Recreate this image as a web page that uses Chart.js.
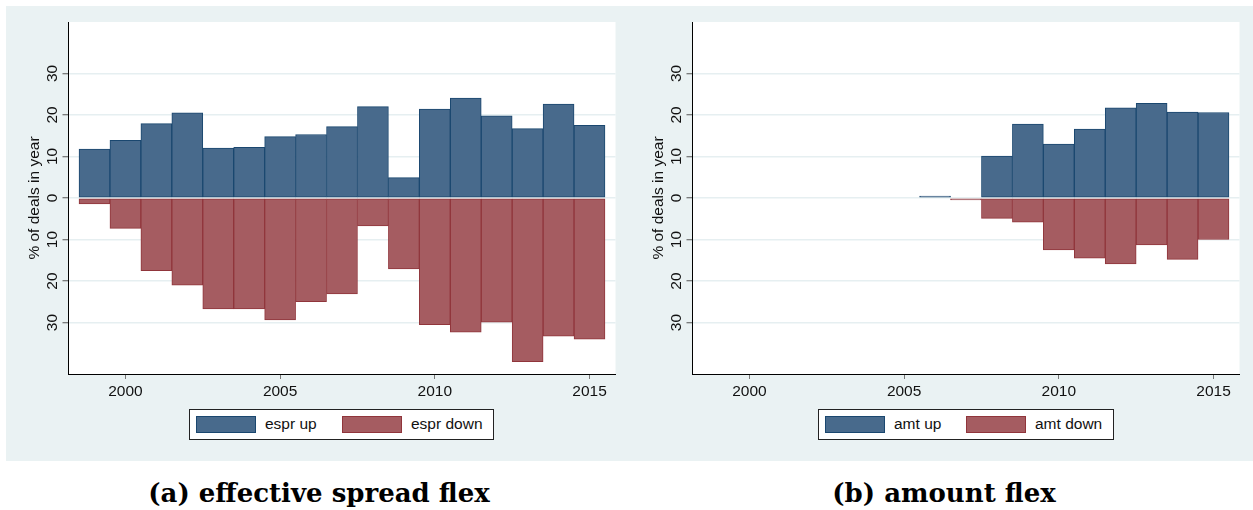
<!DOCTYPE html>
<html>
<head>
<meta charset="utf-8">
<script src="https://cdn.jsdelivr.net/npm/chart.js@4.4.0/dist/chart.umd.min.js"></script>
<style>
  body { margin: 0; width: 1253px; height: 510px; overflow: hidden; position: relative; background: #fff;
         font-family: "Liberation Sans", Arial, sans-serif; }
  #band { position: absolute; left: 6px; top: 6px; width: 1247px; height: 455px; background: #eaf2f3; }
  .cv { position: absolute; top: 6px; width: 616px; height: 455px; }
  .legend { position: absolute; top: 409px; height: 29px; border: 1px solid #222; background: #fff; }
  .legend .sw { position: absolute; top: 6px; width: 58px; height: 15px; border: 1px solid; }
  .legend .lab { position: absolute; top: 5px; font-size: 15.5px; line-height: 18px; color: #111; white-space: nowrap; }
  .caption { position: absolute; top: 480px; font-family: "DejaVu Serif", serif; font-weight: bold;
             font-size: 26px; line-height: 26px; color: #000; white-space: nowrap; transform: translateX(-50%); }
</style>
</head>
<body>
<div id="band"></div>
<canvas id="chartA" class="cv" width="616" height="455" style="left:6px"></canvas>
<canvas id="chartB" class="cv" width="616" height="455" style="left:630px"></canvas>
<div id="legA" class="legend" style="left:189px;width:303px"></div>
<div id="legB" class="legend" style="left:818px;width:294px"></div>
<div class="caption" style="left:319px">(a) effective spread flex</div>
<div class="caption" style="left:944px">(b) amount flex</div>

<script>
// years of the two panels
const years = [1999, 2000, 2001, 2002, 2003, 2004, 2005, 2006, 2007, 2008, 2009, 2010, 2011, 2012, 2013, 2014, 2015];
const amtYears = [2006, 2007, 2008, 2009, 2010, 2011, 2012, 2013, 2014, 2015];

// % of deals in year (down values read as positive, drawn below zero)
const esprUp   = [11.8, 13.9, 17.9, 20.5, 12.0, 12.2, 14.8, 15.3, 17.2, 22.0, 4.9, 21.4, 24.1, 19.8, 16.7, 22.6, 17.5];
const esprDown = [1.4, 7.3, 17.5, 21.0, 26.7, 26.7, 29.4, 25.0, 23.1, 6.7, 17.1, 30.5, 32.3, 29.9, 39.4, 33.3, 34.0];
const amtUp    = [0.3, null, 10.1, 17.8, 13.0, 16.6, 21.7, 22.8, 20.7, 20.6];
const amtDown  = [null, 0.3, 4.9, 5.8, 12.5, 14.5, 15.9, 11.3, 14.8, 10.0];

const xTicks = [2000, 2005, 2010, 2015];
const yTicks = [-30, -20, -10, 0, 10, 20, 30];

const BLUE = '#486a8c', BLUE_LINE = '#1a476f';
const RED = '#a55c61', RED_LINE = '#90353b';
const GRID = '#e6eff1';
const FONT = '"Liberation Sans", Arial, sans-serif';

// white plot region + rotated y labels like Stata
const plotDecor = {
  id: 'plotDecor',
  beforeDraw(chart) {
    const { ctx, chartArea: a } = chart;
    ctx.save();
    ctx.fillStyle = '#fff';
    ctx.fillRect(a.left, a.top, a.right - a.left, a.bottom - a.top);
    ctx.restore();
  },
  afterDraw(chart) {
    const { ctx, chartArea: a, scales: { y } } = chart;
    ctx.save();
    ctx.fillStyle = '#111';
    ctx.font = '15.5px ' + FONT;
    ctx.textAlign = 'center';
    ctx.textBaseline = 'alphabetic';
    yTicks.forEach(v => {
      ctx.save();
      ctx.translate(a.left - 12, y.getPixelForValue(v));
      ctx.rotate(-Math.PI / 2);
      ctx.fillText(String(Math.abs(v)), 0, 0);
      ctx.restore();
    });
    ctx.translate(33, y.getPixelForValue(0));
    ctx.rotate(-Math.PI / 2);
    ctx.fillText('% of deals in year', 0, 0);
    ctx.restore();
  }
};

function makeChart(id, xs, up, down, labels) {
  const datasets = [
    { label: labels[0], data: xs.map((x, i) => ({ x: x, y: up[i] })),
      backgroundColor: BLUE, borderColor: BLUE_LINE },
    { label: labels[1], data: xs.map((x, i) => ({ x: x, y: down[i] == null ? null : -down[i] })),
      backgroundColor: RED, borderColor: RED_LINE }
  ];
  return new Chart(document.getElementById(id), {
    type: 'bar',
    data: { datasets: datasets },
    options: {
      responsive: false,
      animation: false,
      devicePixelRatio: 1,
      layout: { padding: { left: 0, right: 6.5, top: 16, bottom: 0 } },
      datasets: { bar: { grouped: false, barPercentage: 1, categoryPercentage: 1,
                         borderWidth: 1, borderSkipped: false, minBarLength: 2 } },
      plugins: { legend: { display: false }, tooltip: { enabled: false } },
      scales: {
        x: {
          type: 'linear', min: 1998.16, max: 2015.84, offset: false,
          afterBuildTicks: s => { s.ticks = xTicks.map(v => ({ value: v })); },
          afterFit: s => { s.height = 87; },
          ticks: { color: '#111', padding: 3, font: { size: 15.5, family: FONT }, callback: v => String(v) },
          grid: { offset: false, drawOnChartArea: false, tickLength: 5, tickColor: '#777' },
          border: { color: '#000', width: 1 }
        },
        y: {
          min: -42.4, max: 42.4,
          afterBuildTicks: s => { s.ticks = yTicks.map(v => ({ value: v })); },
          afterFit: s => { s.width = 62.5; },
          ticks: { display: false },
          grid: { color: GRID, lineWidth: 1.5, tickLength: 6, tickColor: '#555', tickWidth: 1 },
          border: { color: '#000', width: 1 }
        }
      }
    },
    plugins: [plotDecor]
  });
}

function fillLegend(divId, chart, pos) {
  const box = document.getElementById(divId);
  chart.data.datasets.forEach((ds, i) => {
    const sw = document.createElement('div');
    sw.className = 'sw';
    sw.style.left = pos[i][0] + 'px';
    sw.style.background = ds.backgroundColor;
    sw.style.borderColor = ds.borderColor;
    box.appendChild(sw);
    const lab = document.createElement('div');
    lab.className = 'lab';
    lab.style.left = pos[i][1] + 'px';
    lab.textContent = ds.label;
    box.appendChild(lab);
  });
}

const chartA = makeChart('chartA', years, esprUp, esprDown, ['espr up', 'espr down']);
const chartB = makeChart('chartB', amtYears, amtUp, amtDown, ['amt up', 'amt down']);
fillLegend('legA', chartA, [[6, 75], [152, 221]]);
fillLegend('legB', chartB, [[6, 75], [147, 216]]);
</script>
</body>
</html>
